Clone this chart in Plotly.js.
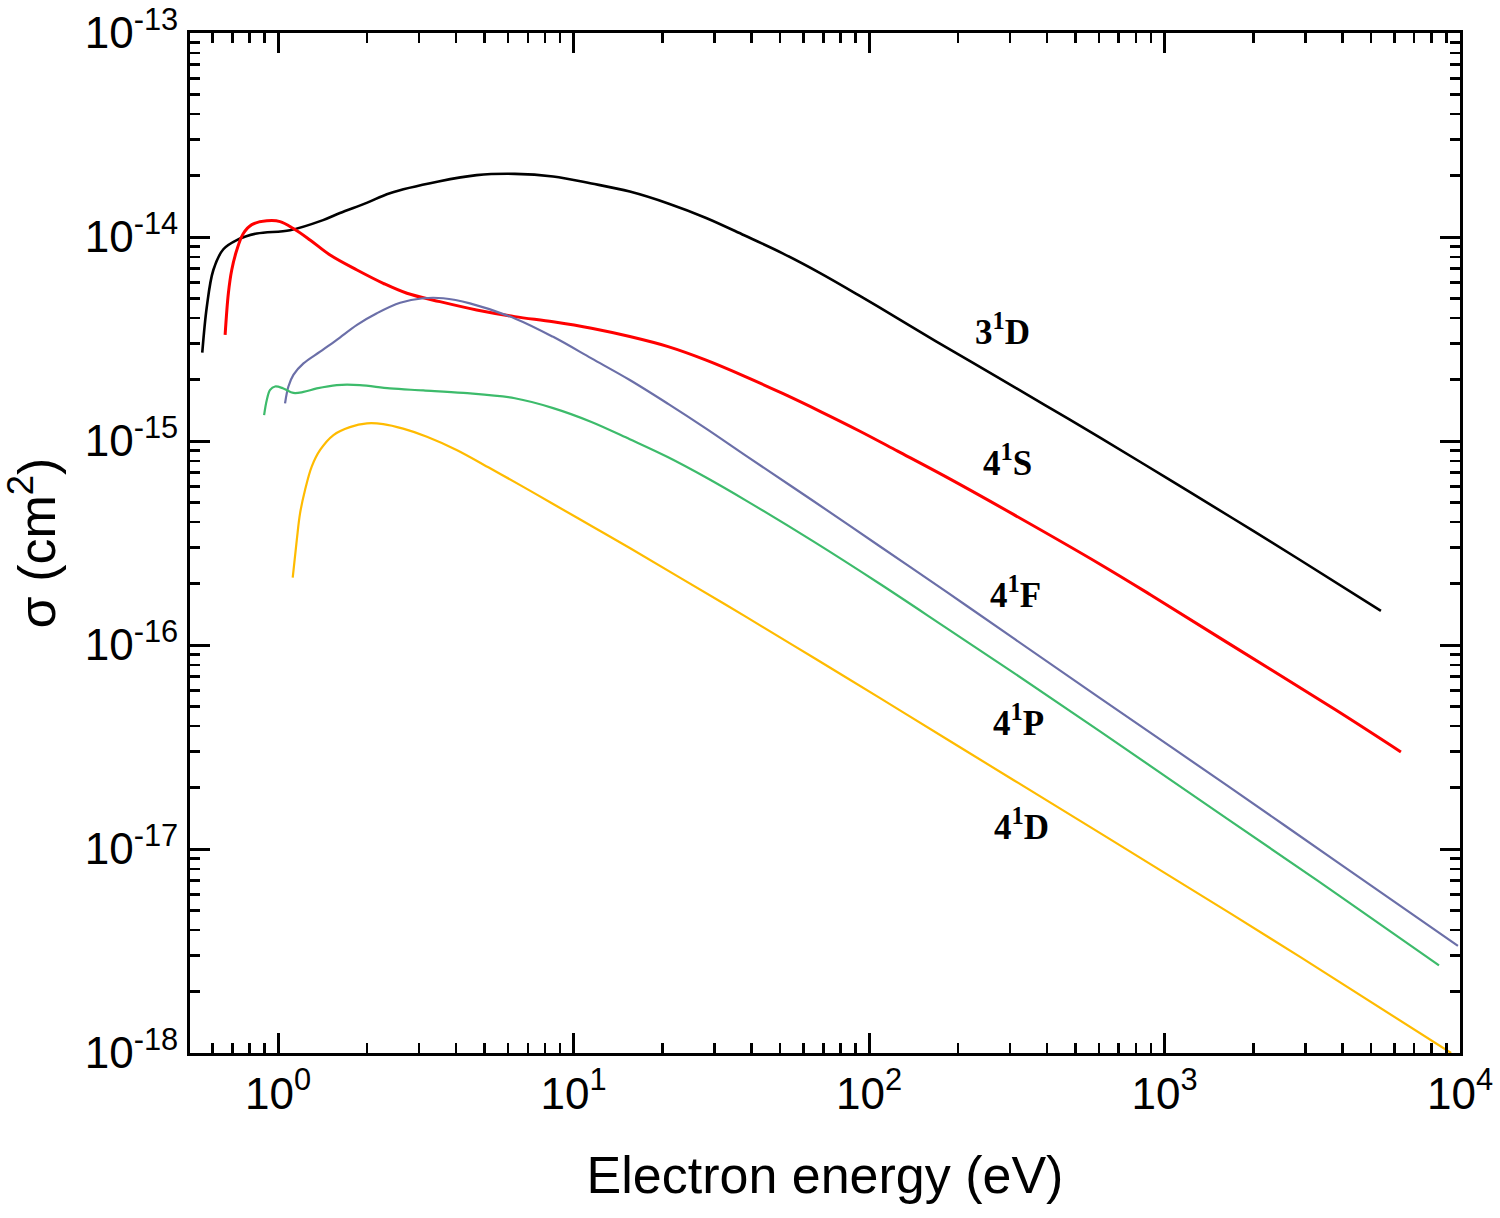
<!DOCTYPE html>
<html>
<head>
<meta charset="utf-8">
<script src="https://cdn.plot.ly/plotly-3.0.1.min.js"></script>
<style>html,body{margin:0;padding:0;background:#fff;}#chart{width:1500px;height:1218px;}</style>
</head>
<body>
<div id="chart"></div>
<script>
// Electron energy (eV) and cross sections (cm^2)
const e3D = [0.554,0.574,0.604,0.653,0.725,0.847,1.098,1.42,1.62,1.995,2.39,3.49,4.70,6.33,8.53,11.5,15.5,20.9,28.1,37.8,51.0,68.8,92.8,125,168,271,410,605,1016,1706,2876,5400];
const s3D = [2.71e-15,4.55e-15,6.89e-15,8.71e-15,9.66e-15,1.04e-14,1.08e-14,1.21e-14,1.31e-14,1.47e-14,1.64e-14,1.87e-14,2.01e-14,2.04e-14,1.98e-14,1.83e-14,1.67e-14,1.46e-14,1.24e-14,1.02e-14,8.32e-15,6.62e-15,5.16e-15,3.99e-15,3.09e-15,2.06e-15,1.45e-15,1.04e-15,6.59e-16,4.17e-16,2.61e-16,1.47e-16];

const e4S = [0.662,0.679,0.697,0.725,0.763,0.815,0.916,1.016,1.127,1.283,1.50,1.85,2.27,2.73,3.53,4.70,6.33,8.53,11.5,15.5,20.9,28.1,37.8,51.0,68.8,92.8,125,183,307,605,893,1627,3802,6310];
const s4S = [3.31e-15,5.30e-15,6.89e-15,8.63e-15,1.04e-14,1.15e-14,1.20e-14,1.19e-14,1.10e-14,9.67e-15,8.16e-15,6.89e-15,5.93e-15,5.30e-15,4.82e-15,4.39e-15,4.07e-15,3.84e-15,3.57e-15,3.25e-15,2.90e-15,2.49e-15,2.08e-15,1.71e-15,1.39e-15,1.12e-15,8.92e-16,6.65e-16,4.38e-16,2.49e-16,1.77e-16,1.03e-16,4.80e-17,2.99e-17];

const e4F = [1.056,1.084,1.127,1.219,1.388,1.58,1.85,2.16,2.59,3.10,3.62,4.46,6.33,8.53,11.5,15.5,20.9,28.1,38.5,64.8,109,183,308,605,1627,3802,9840];
const s4F = [1.53e-15,1.85e-15,2.11e-15,2.40e-15,2.74e-15,3.13e-15,3.71e-15,4.23e-15,4.76e-15,5.01e-15,5.01e-15,4.73e-15,3.99e-15,3.24e-15,2.54e-15,1.99e-15,1.52e-15,1.15e-15,8.43e-16,5.08e-16,3.04e-16,1.82e-16,1.08e-16,5.49e-17,2.05e-17,8.73e-18,3.35e-18];

const e4P = [0.897,0.916,0.940,0.977,1.042,1.127,1.219,1.352,1.58,1.89,2.39,3.10,4.24,6.33,8.53,11.5,15.5,20.9,28.1,38.5,64.8,109,183,308,605,1627,3802,8490];
const s4P = [1.34e-15,1.59e-15,1.78e-15,1.85e-15,1.81e-15,1.72e-15,1.74e-15,1.81e-15,1.88e-15,1.88e-15,1.81e-15,1.77e-15,1.72e-15,1.62e-15,1.45e-15,1.24e-15,1.02e-15,8.32e-16,6.62e-16,5.09e-16,3.22e-16,1.99e-16,1.21e-16,7.32e-17,3.77e-17,1.41e-17,6.06e-18,2.69e-18];

const e4D = [1.121,1.157,1.187,1.234,1.300,1.388,1.54,1.75,2.00,2.27,2.65,3.19,4.02,5.22,6.76,8.53,11.5,15.5,22.9,38.5,64.8,109,183,308,1004,2876,9330];
const s4D = [2.14e-16,3.27e-16,4.42e-16,5.75e-16,7.49e-16,9.04e-16,1.07e-15,1.17e-15,1.22e-15,1.21e-15,1.15e-15,1.05e-15,9.04e-16,7.35e-16,5.96e-16,4.91e-16,3.83e-16,2.99e-16,2.14e-16,1.37e-16,8.68e-17,5.49e-17,3.46e-17,2.18e-17,7.62e-18,2.96e-18,1.00e-18];

const seriesNames = ['3<sup>1</sup>D','4<sup>1</sup>S','4<sup>1</sup>F','4<sup>1</sup>P','4<sup>1</sup>D'];
const xDecades = [0,1,2,3,4];
const yDecades = [-18,-17,-16,-15,-14,-13];

const colors = ['#000000','#ff0000','#6b6fa8','#3dbb6b','#ffbb00'];
const widths = [2.6,3,2.2,2.2,2.2];
const xs = [e3D,e4S,e4F,e4P,e4D];
const ys = [s3D,s4S,s4F,s4P,s4D];

const traces = xs.map((x,i)=>({
  x:x, y:ys[i], type:'scatter', mode:'lines', name:seriesNames[i],
  line:{color:colors[i], width:widths[i], shape:'spline', smoothing:1.0},
  hoverinfo:'skip'
}));

const xMajor = xDecades.map(d=>Math.pow(10,d));
const xMinor = [];
[-1,0,1,2,3].forEach(d=>{for(let k=2;k<=9;k++){const v=k*Math.pow(10,d); if(v>0.5) xMinor.push(v);}});
const yMajor = yDecades.map(d=>Math.pow(10,d));
const yMinor = [];
[-18,-17,-16,-15,-14].forEach(d=>{for(let k=2;k<=9;k++) yMinor.push(k*Math.pow(10,d));});

const font = 'Liberation Sans, Arial, sans-serif';
const labelPos = [[0.640,0.709],[0.644,0.581],[0.650,0.451],[0.652,0.326],[0.655,0.224]];

const layout = {
  width:1500, height:1218,
  margin:{l:190,r:40,t:33,b:165},
  paper_bgcolor:'#fff', plot_bgcolor:'#fff',
  showlegend:false,
  xaxis:{
    type:'log', range:[-0.298,4],
    tickmode:'array', tickvals:xMajor,
    ticktext:xDecades.map(d=>'10<sup>'+d+'</sup>'),
    ticks:'inside', ticklen:20, tickwidth:3, tickcolor:'#000',
    minor:{tickmode:'array', tickvals:xMinor, ticks:'inside', ticklen:10, tickwidth:2.5, tickcolor:'#000', showgrid:false},
    showline:true, linecolor:'#000', linewidth:3, mirror:'ticks',
    showgrid:false, zeroline:false,
    tickfont:{family:font, size:44, color:'#000'},
    title:{text:'Electron energy (eV)', font:{family:font, size:52, color:'#000'}, standoff:40}
  },
  yaxis:{
    type:'log', range:[-18,-13],
    tickmode:'array', tickvals:yMajor,
    ticktext:yDecades.map(d=>'10<sup>'+d+'</sup>'),
    ticks:'inside', ticklen:20, tickwidth:3, tickcolor:'#000',
    minor:{tickmode:'array', tickvals:yMinor, ticks:'inside', ticklen:10, tickwidth:2.5, tickcolor:'#000', showgrid:false},
    showline:true, linecolor:'#000', linewidth:3, mirror:'ticks',
    showgrid:false, zeroline:false,
    tickfont:{family:font, size:44, color:'#000'},
    title:{text:'σ (cm<sup>2</sup>)', font:{family:font, size:52, color:'#000'}, standoff:14}
  },
  annotations: seriesNames.map((t,i)=>({
    text:'<b>'+t+'</b>', xref:'paper', yref:'paper', x:labelPos[i][0], y:labelPos[i][1],
    showarrow:false, xanchor:'center', yanchor:'middle',
    font:{family:'Liberation Serif, Times New Roman, serif', size:35, color:'#000'}
  }))
};

Plotly.newPlot('chart', traces, layout, {staticPlot:true, displayModeBar:false});
</script>
</body>
</html>
